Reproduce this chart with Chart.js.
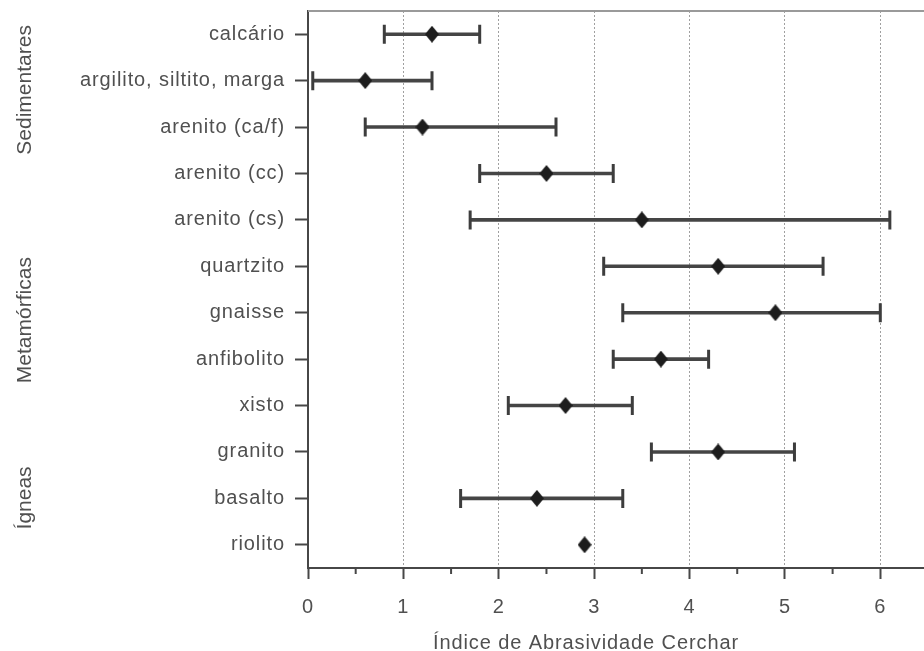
<!DOCTYPE html>
<html><head><meta charset="utf-8">
<script src="https://cdn.jsdelivr.net/npm/chart.js@4"></script>
<style>
html,body{margin:0;padding:0;background:#fff;overflow:hidden;width:924px;height:651px}
#wrap{width:930px;height:651px}
canvas{display:block}
</style></head>
<body><div id="wrap"><canvas id="c" width="930" height="651" style="width:930px;height:651px"></canvas></div>
<script>
const categories = ['calcário','argilito, siltito, marga','arenito (ca/f)','arenito (cc)','arenito (cs)','quartzito','gnaisse','anfibolito','xisto','granito','basalto','riolito'];
const meanValues = [1.3, 0.6, 1.2, 2.5, 3.5, 4.3, 4.9, 3.7, 2.7, 4.3, 2.4, 2.9];
const lowValues  = [0.8, 0.05, 0.6, 1.8, 1.7, 3.1, 3.3, 3.2, 2.1, 3.6, 1.6, null];
const highValues = [1.8, 1.3, 2.6, 3.2, 6.1, 5.4, 6.0, 4.2, 3.4, 5.1, 3.3, null];
const xTicks = [0, 1, 2, 3, 4, 5, 6];
const groupNames = ['Sedimentares', 'Metamórficas', 'Ígneas'];
const groupCenters = [1.2, 6.16, 9.99];
const axisTitle = 'Índice de Abrasividade Cerchar';

const FONT = "'Liberation Sans', Arial, sans-serif";
const TEXT = '#505050';
const AXIS = '#474747';

// diamond marker
const dia = document.createElement('canvas');
dia.width = 14; dia.height = 17;
(function(){
  const g = dia.getContext('2d');
  g.fillStyle = '#1d1d1d';
  g.beginPath(); g.moveTo(7,0); g.lineTo(14,8.5); g.lineTo(7,17); g.lineTo(0,8.5); g.closePath(); g.fill();
})();

const capPoints = [];
categories.forEach((c,i)=>{
  if (lowValues[i] != null) { capPoints.push({x: lowValues[i], y: c}); capPoints.push({x: highValues[i], y: c}); }
});

const spacing = '0.9px';
const zeroPad = s => { s.paddingTop = 0; s.paddingBottom = 0; s.paddingLeft = 0; s.paddingRight = 0; };
const extras = {
  id: 'extras',
  beforeUpdate(chart){ chart.ctx.letterSpacing = spacing; },
  beforeDraw(chart){
    const ctx = chart.ctx;
    ctx.letterSpacing = spacing;
    ctx.save();
    ctx.fillStyle = '#ffffff';
    ctx.fillRect(0,0,chart.width,chart.height);
    ctx.restore();
  },
  afterDraw(chart){
    const ctx = chart.ctx;
    const xs = chart.scales.x, ys = chart.scales.y, a = chart.chartArea;
    ctx.save();
    // top frame
    ctx.strokeStyle = '#9a9a9a'; ctx.lineWidth = 2;
    ctx.beginPath(); ctx.moveTo(a.left, a.top); ctx.lineTo(a.right, a.top); ctx.stroke();
    // minor ticks
    ctx.strokeStyle = AXIS; ctx.lineWidth = 2;
    xTicks.forEach(v=>{
      const p = xs.getPixelForValue(v + 0.5);
      ctx.beginPath(); ctx.moveTo(p, a.bottom); ctx.lineTo(p, a.bottom + 6); ctx.stroke();
    });
    // axis title
    ctx.letterSpacing = spacing;
    ctx.fillStyle = TEXT;
    ctx.font = '20px ' + FONT;
    ctx.textAlign = 'left'; ctx.textBaseline = 'alphabetic';
    ctx.fillText(axisTitle, xs.getPixelForValue(1.31), chart.height - 2);
    // group labels
    ctx.letterSpacing = '0px';
    ctx.font = '21px ' + FONT;
    ctx.textAlign = 'center'; ctx.textBaseline = 'middle';
    groupNames.forEach((g,i)=>{
      const y = ys.getPixelForValue(groupCenters[i]);
      ctx.save(); ctx.translate(25, y); ctx.rotate(-Math.PI/2); ctx.fillText(g, 0, 0); ctx.restore();
    });
    ctx.restore();
  }
};

new Chart(document.getElementById('c'), {
  type: 'bar',
  data: {
    labels: categories,
    datasets: [
      {
        type: 'line', label: 'média', indexAxis: 'y', showLine: false, order: 0,
        data: categories.map((c,i)=>({x: meanValues[i], y: c})),
        pointStyle: dia, pointRadius: 8, pointHoverRadius: 8
      },
      {
        type: 'line', label: 'limites', indexAxis: 'y', showLine: false, order: 1,
        data: capPoints,
        pointStyle: 'line', rotation: 90, pointRadius: 9.5, pointHoverRadius: 9.5,
        pointBorderWidth: 3, pointBorderColor: '#3d3d3d', borderColor: '#3d3d3d'
      },
      {
        type: 'bar', label: 'intervalo', order: 2,
        data: categories.map((c,i)=> lowValues[i] == null ? null : [lowValues[i], highValues[i]]),
        backgroundColor: '#454545', borderWidth: 0, barThickness: 3
      }
    ]
  },
  options: {
    indexAxis: 'y',
    responsive: false,
    animation: false,
    devicePixelRatio: 1,
    events: [],
    layout: { autoPadding: false, padding: { top: 11, right: 2, left: 0, bottom: 0 } },
    plugins: { legend: { display: false }, tooltip: { enabled: false }, title: { display: false } },
    scales: {
      x: {
        type: 'linear', min: 0, max: 6.5,
        afterBuildTicks: s => { s.ticks = xTicks.map(v => ({ value: v })); },
        afterFit: s => { s.height = 83; zeroPad(s); },
        ticks: { color: TEXT, font: { size: 20, family: FONT }, padding: 16, maxRotation: 0, autoSkip: false },
        grid: {
          color: c => (c.tick && c.tick.value === 0) ? 'rgba(0,0,0,0)' : '#a0a0a0',
          lineWidth: 1, tickBorderDash: [],
          tickLength: 11, tickColor: AXIS, tickWidth: 2, drawTicks: true
        },
        border: { display: true, color: AXIS, width: 2, dash: [2, 2] }
      },
      y: {
        type: 'category', offset: true,
        afterFit: s => { s.width = 308; zeroPad(s); },
        ticks: { color: TEXT, font: { size: 20, family: FONT }, padding: 10, autoSkip: false },
        grid: { offset: false, drawOnChartArea: false, drawTicks: true, tickLength: 13, tickColor: AXIS, tickWidth: 2 },
        border: { display: true, color: AXIS, width: 2 }
      }
    }
  },
  plugins: [extras]
});
</script>
</body></html>
